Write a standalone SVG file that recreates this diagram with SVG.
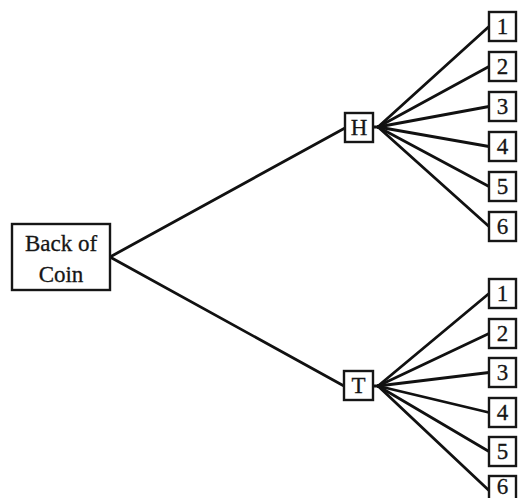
<svg xmlns="http://www.w3.org/2000/svg" width="519" height="498" viewBox="0 0 519 498">
  <style>
    .box { fill: #ffffff; stroke: #161616; stroke-width: 2.4; }
    .edge { stroke: #111111; stroke-width: 2.8; fill: none; stroke-linecap: round; }
    .lbl { font-family: "Liberation Serif", "DejaVu Serif", serif; font-size: 23px; fill: #161616; stroke: #161616; stroke-width: 0.3; text-anchor: middle; }
  </style>
  <rect width="519" height="498" fill="#ffffff"/>

  <!-- connectors -->
  <g id="connectors">
    <line class="edge" x1="110" y1="257" x2="345" y2="128"/>
    <line class="edge" x1="110" y1="257" x2="344" y2="386"/>
    <!-- H fan -->
    <line class="edge" x1="378" y1="127" x2="489" y2="26.5"/>
    <line class="edge" x1="378" y1="127" x2="489" y2="66.5"/>
    <line class="edge" x1="378" y1="127" x2="489" y2="106.5"/>
    <line class="edge" x1="378" y1="127" x2="489" y2="146.5"/>
    <line class="edge" x1="378" y1="127" x2="489" y2="186.5"/>
    <line class="edge" x1="378" y1="127" x2="489" y2="226.5"/>
    <!-- T fan -->
    <line class="edge" x1="378" y1="386" x2="489" y2="293.5"/>
    <line class="edge" x1="378" y1="386" x2="489" y2="333.5"/>
    <line class="edge" x1="378" y1="386" x2="489" y2="372.5"/>
    <line class="edge" x1="378" y1="386" x2="489" y2="412.5"/>
    <line class="edge" x1="378" y1="386" x2="489" y2="451.5"/>
    <line class="edge" x1="378" y1="386" x2="489" y2="490.5"/>
    <line class="edge" x1="373" y1="127" x2="378" y2="127"/>
    <line class="edge" x1="373" y1="386" x2="378" y2="386"/>
  </g>

  <!-- root -->
  <g id="root">
    <rect class="box" x="12" y="224" width="98" height="66"/>
    <text class="lbl" x="61" y="251">Back of</text>
    <text class="lbl" x="61" y="282">Coin</text>
  </g>

  <!-- first-level outcomes -->
  <g id="node-H">
    <rect class="box" x="345" y="113" width="28" height="29"/>
    <text class="lbl" x="359" y="135">H</text>
  </g>
  <g id="node-T">
    <rect class="box" x="344" y="371" width="29" height="29"/>
    <text class="lbl" x="358.5" y="393">T</text>
  </g>

  <!-- die outcomes after H -->
  <g id="H1"><rect class="box" x="489" y="12" width="27" height="29"/><text class="lbl" x="502.5" y="34">1</text></g>
  <g id="H2"><rect class="box" x="489" y="52" width="27" height="29"/><text class="lbl" x="502.5" y="74">2</text></g>
  <g id="H3"><rect class="box" x="489" y="92" width="27" height="29"/><text class="lbl" x="502.5" y="114">3</text></g>
  <g id="H4"><rect class="box" x="489" y="132" width="27" height="29"/><text class="lbl" x="502.5" y="154">4</text></g>
  <g id="H5"><rect class="box" x="489" y="172" width="27" height="29"/><text class="lbl" x="502.5" y="194">5</text></g>
  <g id="H6"><rect class="box" x="489" y="212" width="27" height="29"/><text class="lbl" x="502.5" y="234">6</text></g>

  <!-- die outcomes after T -->
  <g id="T1"><rect class="box" x="489" y="279" width="27" height="29"/><text class="lbl" x="502.5" y="301">1</text></g>
  <g id="T2"><rect class="box" x="489" y="319" width="27" height="29"/><text class="lbl" x="502.5" y="341">2</text></g>
  <g id="T3"><rect class="box" x="489" y="358" width="27" height="29"/><text class="lbl" x="502.5" y="380">3</text></g>
  <g id="T4"><rect class="box" x="489" y="398" width="27" height="29"/><text class="lbl" x="502.5" y="420">4</text></g>
  <g id="T5"><rect class="box" x="489" y="437" width="27" height="29"/><text class="lbl" x="502.5" y="459">5</text></g>
  <g id="T6"><rect class="box" x="489" y="476" width="27" height="29"/><text class="lbl" x="502.5" y="494">6</text></g>
</svg>
